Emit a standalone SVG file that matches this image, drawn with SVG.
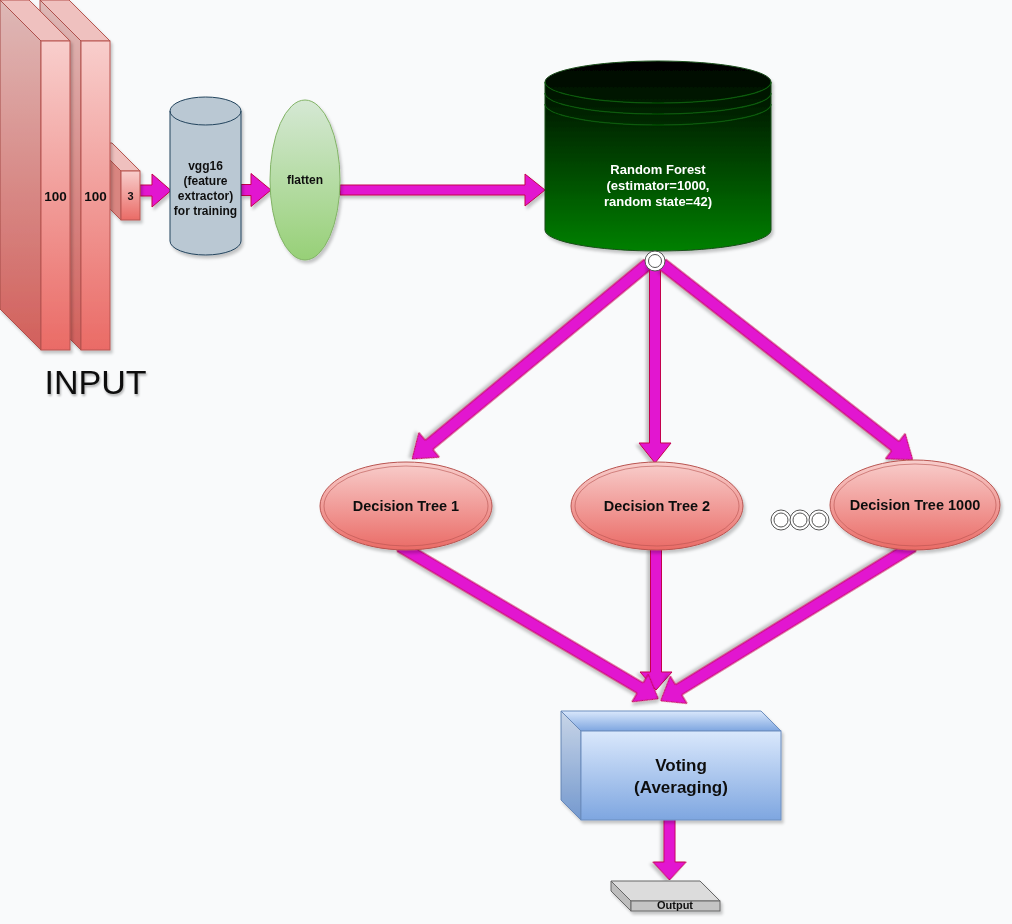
<svg xmlns="http://www.w3.org/2000/svg" width="1012" height="924" viewBox="0 0 1012 924">
<defs>
<style>
.arrow{fill:#E214D0;stroke:#C4004C;stroke-width:1;filter:url(#sh)}
.lbl{font-family:"Liberation Sans",Arial,sans-serif;font-weight:bold;fill:#111;text-anchor:middle}
.red{fill:url(#gRed);stroke:#b85450;stroke-width:1}
.dot{fill:#fff;stroke:#555;stroke-width:1}
</style>
<filter id="sh" x="-20%" y="-20%" width="140%" height="140%">
<feDropShadow dx="2" dy="3" stdDeviation="1.8" flood-color="#000" flood-opacity="0.22"/>
</filter>
<filter id="tsh" x="-20%" y="-20%" width="140%" height="140%">
<feDropShadow dx="1" dy="2" stdDeviation="1.2" flood-color="#000" flood-opacity="0.3"/>
</filter>
<linearGradient id="gRed" x1="0" y1="0" x2="0" y2="1"><stop offset="0" stop-color="#f8cecc"/><stop offset="1" stop-color="#ea6b66"/></linearGradient>
<linearGradient id="gGreen" x1="0" y1="0" x2="0" y2="1"><stop offset="0" stop-color="#d5e8d4"/><stop offset="1" stop-color="#97d077"/></linearGradient>
<linearGradient id="gRF" x1="0" y1="0" x2="0" y2="1"><stop offset="0" stop-color="#000000"/><stop offset="1" stop-color="#008000"/></linearGradient>
<linearGradient id="gBlue" x1="0" y1="0" x2="0" y2="1"><stop offset="0" stop-color="#dae8fc"/><stop offset="1" stop-color="#7ea6e0"/></linearGradient>
</defs>
<rect width="1012" height="924" fill="#f9fafb"/>

<g id="connectors">
<path class="arrow" transform="translate(140,190.5)" d="M0,-5.5 H12 V-16.5 L31,0 L12,16.5 V5.5 H0 Z"/>
<path class="arrow" transform="translate(241,190)" d="M0,-5.5 H10 V-16.5 L30,0 L10,16.5 V5.5 H0 Z"/>
<path class="arrow" transform="translate(340,190)" d="M0,-5 H185 V-16 L205,0 L185,16 V5 H0 Z"/>
<path class="arrow" transform="translate(648,264) rotate(140.43)" d="M0,-6 H284 V-16 L306,0 L284,16 V6 H0 Z"/>
<path class="arrow" transform="translate(655,262) rotate(90)" d="M0,-5.5 H181 V-16 L201,0 L181,16 V5.5 H0 Z"/>
<path class="arrow" transform="translate(662,264) rotate(37.98)" d="M0,-6 H296 V-16 L318,0 L296,16 V6 H0 Z"/>
<path class="arrow" transform="translate(656,545) rotate(90)" d="M0,-5.5 H127 V-16 L145,0 L127,16 V5.5 H0 Z"/>
<path class="arrow" transform="translate(400,546) rotate(30.6)" d="M0,-6 H279 V-16 L300,0 L279,16 V6 H0 Z"/>
<path class="arrow" transform="translate(913,546) rotate(148.47)" d="M0,-6 H275 V-16 L296,0 L275,16 V6 H0 Z"/>
<path class="arrow" transform="translate(669.5,818) rotate(90)" d="M0,-5.5 H44 V-16.5 L62,0 L44,16.5 V5.5 H0 Z"/>
</g>

<g id="input">
<g id="block3" filter="url(#sh)">
<polygon points="93,143 112,143 140,171 121,171" fill="#efc0be" stroke="#b85450"/>
<polygon points="93,143 121,171 121,220 93,192" fill="#d98580" stroke="#b85450"/>
<rect x="121" y="171" width="19" height="49" class="red"/>
<text class="lbl" x="130.5" y="199.5" font-size="11">3</text>
</g>
<g id="block2" filter="url(#sh)">
<polygon points="40,0 69,0 110,41 81,41" fill="#efc1bf" stroke="#b85450"/>
<polygon points="40,0 81,41 81,350 40,309" fill="url(#gRed)" stroke="#b85450"/>
<polygon points="40,0 81,41 81,350 40,309" fill="#000" fill-opacity="0.1"/>
<rect x="81" y="41" width="29" height="309" class="red"/>
<text class="lbl" x="95.5" y="201" font-size="13.5">100</text>
</g>
<g id="block1" filter="url(#sh)">
<polygon points="0,0 29,0 70,41 41,41" fill="#efc1bf" stroke="#b85450"/>
<polygon points="0,0 41,41 41,350 0,309" fill="url(#gRed)" stroke="#b85450"/>
<polygon points="0,0 41,41 41,350 0,309" fill="#000" fill-opacity="0.1"/>
<rect x="41" y="41" width="29" height="309" class="red"/>
<text class="lbl" x="55.5" y="201" font-size="13.5">100</text>
</g>
<text x="95.5" y="394" font-family="'Liberation Sans',Arial,sans-serif" font-size="34" fill="#111" text-anchor="middle" filter="url(#tsh)">INPUT</text>
</g>

<g id="vgg16" filter="url(#sh)">
<path d="M170,111 A35.5,14 0 0 1 241,111 V241 A35.5,14 0 0 1 170,241 Z" fill="#bac8d3" stroke="#23445d"/>
<path d="M170,111 A35.5,14 0 0 0 241,111" fill="none" stroke="#23445d"/>
<text class="lbl" font-size="12" x="205.5" y="170">vgg16</text>
<text class="lbl" font-size="12" x="205.5" y="185">(feature</text>
<text class="lbl" font-size="12" x="205.5" y="200">extractor)</text>
<text class="lbl" font-size="12" x="205.5" y="215">for training</text>
</g>

<g id="flatten" filter="url(#sh)">
<ellipse cx="305" cy="180" rx="35" ry="80" fill="url(#gGreen)" stroke="#82b366"/>
<text class="lbl" font-size="12" x="305" y="184">flatten</text>
</g>

<g id="random-forest" filter="url(#sh)">
<path d="M545,82 A113,21 0 0 1 771,82 V230 A113,21 0 0 1 545,230 Z" fill="url(#gRF)" stroke="#1b4d1b"/>
<path d="M545,82 A113,21 0 0 0 771,82 M545,93 A113,21 0 0 0 771,93 M545,104 A113,21 0 0 0 771,104" fill="none" stroke="#0b5a0b" stroke-width="1.2"/>
<text class="lbl" font-size="13" x="658" y="174" style="fill:#fff">Random Forest</text>
<text class="lbl" font-size="13" x="658" y="190" style="fill:#fff">(estimator=1000,</text>
<text class="lbl" font-size="13" x="658" y="206" style="fill:#fff">random state=42)</text>
</g>

<g id="rf-port">
<circle cx="655" cy="261" r="10" class="dot"/>
<circle cx="655" cy="261" r="6.5" class="dot"/>
</g>

<g id="dt1" filter="url(#sh)">
<ellipse cx="406" cy="506" rx="86" ry="44" class="red"/>
<ellipse cx="406" cy="506" rx="82" ry="40" fill="none" stroke="#b85450" stroke-opacity="0.6"/>
<text class="lbl" font-size="14.5" x="406" y="511">Decision Tree 1</text>
</g>

<g id="dt2" filter="url(#sh)">
<ellipse cx="657" cy="506" rx="86" ry="44" class="red"/>
<ellipse cx="657" cy="506" rx="82" ry="40" fill="none" stroke="#b85450" stroke-opacity="0.6"/>
<text class="lbl" font-size="14.5" x="657" y="511">Decision Tree 2</text>
</g>

<g id="dots">
<circle cx="781" cy="520" r="10" class="dot"/><circle cx="781" cy="520" r="7" class="dot"/>
<circle cx="800" cy="520" r="10" class="dot"/><circle cx="800" cy="520" r="7" class="dot"/>
<circle cx="819" cy="520" r="10" class="dot"/><circle cx="819" cy="520" r="7" class="dot"/>
</g>

<g id="dt1000" filter="url(#sh)">
<ellipse cx="915" cy="505" rx="85" ry="45" class="red"/>
<ellipse cx="915" cy="505" rx="81" ry="41" fill="none" stroke="#b85450" stroke-opacity="0.6"/>
<text class="lbl" font-size="14.5" x="915" y="510">Decision Tree 1000</text>
</g>

<g id="voting" filter="url(#sh)">
<polygon points="561,711 761,711 781,731 581,731" fill="url(#gBlue)" stroke="#6c8ebf"/>
<polygon points="561,711 581,731 581,820 561,800" fill="url(#gBlue)" stroke="#6c8ebf"/>
<polygon points="561,711 581,731 581,820 561,800" fill="#000" fill-opacity="0.08"/>
<rect x="581" y="731" width="200" height="89" fill="url(#gBlue)" stroke="#6c8ebf"/>
<text class="lbl" font-size="17" x="681" y="771">Voting</text>
<text class="lbl" font-size="17" x="681" y="793">(Averaging)</text>
</g>

<g id="output" filter="url(#sh)">
<polygon points="611,881 700,881 720,901 631,901" fill="#dcdcdc" stroke="#666"/>
<polygon points="611,881 631,901 631,911 611,891" fill="#bdbdbd" stroke="#666"/>
<rect x="631" y="901" width="89" height="10" fill="#c4c4c4" stroke="#666"/>
<text class="lbl" font-size="11" x="675" y="909">Output</text>
</g>
</svg>
